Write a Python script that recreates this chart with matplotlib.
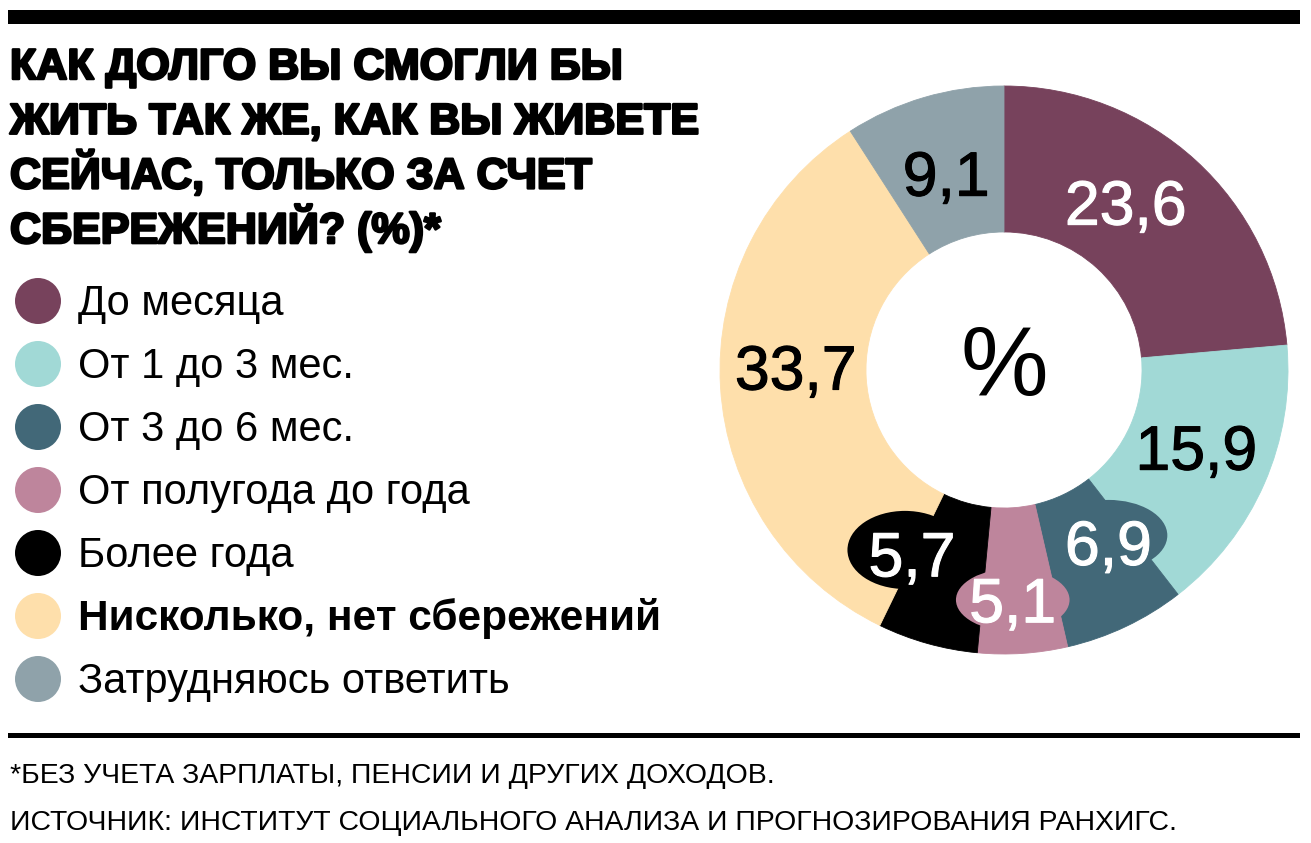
import matplotlib
matplotlib.use("Agg")
import matplotlib.pyplot as plt
import matplotlib.patheffects as pe
from matplotlib.patches import Ellipse, Rectangle
from matplotlib.transforms import offset_copy
import numpy as np

W, H = 1311, 843

categories = [
    "До месяца",
    "От 1 до 3 мес.",
    "От 3 до 6 мес.",
    "От полугода до года",
    "Более года",
    "Нисколько, нет сбережений",
    "Затрудняюсь ответить",
]
values = [23.6, 15.9, 6.9, 5.1, 5.7, 33.7, 9.1]
value_labels = ["23,6", "15,9", "6,9", "5,1", "5,7", "33,7", "9,1"]
colors = ["#77425C", "#A1D9D6", "#426878", "#BE859C", "#000000", "#FEDFAB", "#8FA2AA"]
label_colors = ["white", "black", "white", "white", "white", "black", "black"]
bold_items = ["Нисколько, нет сбережений"]

title_lines = [
    "КАК ДОЛГО ВЫ СМОГЛИ БЫ",
    "ЖИТЬ ТАК ЖЕ, КАК ВЫ ЖИВЕТЕ",
    "СЕЙЧАС, ТОЛЬКО ЗА СЧЕТ",
    "СБЕРЕЖЕНИЙ? (%)*",
]
notes = [
    "*БЕЗ УЧЕТА ЗАРПЛАТЫ, ПЕНСИИ И ДРУГИХ ДОХОДОВ.",
    "ИСТОЧНИК: ИНСТИТУТ СОЦИАЛЬНОГО АНАЛИЗА И ПРОГНОЗИРОВАНИЯ РАНХИГС.",
]

# label placement tweaks: (angle nudge in degrees, radius)
label_shift = [(6.5, 0.73), (1.7, 0.73), (5.8, 0.71), (-1.6, 0.81),
               (-10.9, 0.724), (-4.2, 0.733), (0.0, 0.722)]
# background blobs behind small labels: index -> (dx, dy, w, h)
blobs = {2: (0.0, 0.025, 0.415, 0.25),
         4: (-0.025, 0.014, 0.405, 0.275),
         3: (0.0, 0.0, 0.40, 0.22)}

plt.rcParams["font.family"] = ["Liberation Sans", "DejaVu Sans"]

fig = plt.figure(figsize=(W / 100, H / 100), dpi=100)


def px(x, y):
    return x / W, 1 - y / H


# rules
fig.add_artist(Rectangle(px(8, 24), 1292 / W, 14 / H, transform=fig.transFigure,
                         color="black", lw=0))
fig.add_artist(Rectangle(px(8, 738), 1292 / W, 5 / H, transform=fig.transFigure,
                         color="black", lw=0))

# title
for i, line in enumerate(title_lines):
    fig.text(*px(10, 79 + 54.7 * i), line, fontsize=31, fontweight="bold",
             va="baseline", ha="left",
             path_effects=[pe.withStroke(linewidth=1.8, foreground="black")])

# legend
for i, (cat, col) in enumerate(zip(categories, colors)):
    cy = 301 + 63 * i
    fig.add_artist(Ellipse(px(38, cy), 46 / W, 46 / H, transform=fig.transFigure,
                           color=col, lw=0))
    bold = cat in bold_items
    fig.text(*px(78, cy + 14), cat, fontsize=30.5 if bold else 30,
             va="baseline", ha="left", fontweight="bold" if bold else "normal")

# notes
for i, line in enumerate(notes):
    fig.text(*px(10, 783 + 47 * i), line, fontsize=20.4, va="baseline", ha="left")

# donut
cx, cy, r = 1004, 370, 284
ax = fig.add_axes([(cx - r) / W, (H - cy - r) / H, 2 * r / W, 2 * r / H])
wedges, _ = ax.pie(values, colors=colors, startangle=90, counterclock=False,
                   radius=1, wedgeprops=dict(width=0.514, linewidth=0.6))
for w, c in zip(wedges, colors):
    w.set_edgecolor(c)
ax.set_xlim(-1, 1)
ax.set_ylim(-1, 1)
ax.set_aspect("auto")
ax.axis("off")

fs = 45
lab_tr = offset_copy(ax.transData, fig=fig, x=0, y=-0.716 * fs / 2, units="points")
for i, (wg, lab) in enumerate(zip(wedges, value_labels)):
    mid = (wg.theta1 + wg.theta2) / 2
    dang, rr = label_shift[i]
    a = np.deg2rad(mid + dang)
    x, y = rr * np.cos(a), rr * np.sin(a)
    if i in blobs:
        dx, dy, bw, bh = blobs[i]
        ax.add_patch(Ellipse((x + dx, y + dy), bw, bh, color=colors[i], lw=0, zorder=3))
    ax.text(x, y, lab, transform=lab_tr, fontsize=fs, color=label_colors[i],
            ha="center", va="baseline", zorder=4,
            path_effects=[pe.withStroke(linewidth=0.8, foreground=label_colors[i])])

ax.text(0, 0, "%", fontsize=71, ha="center", va="center", color="black")

fig.savefig("out.png", dpi=100)
